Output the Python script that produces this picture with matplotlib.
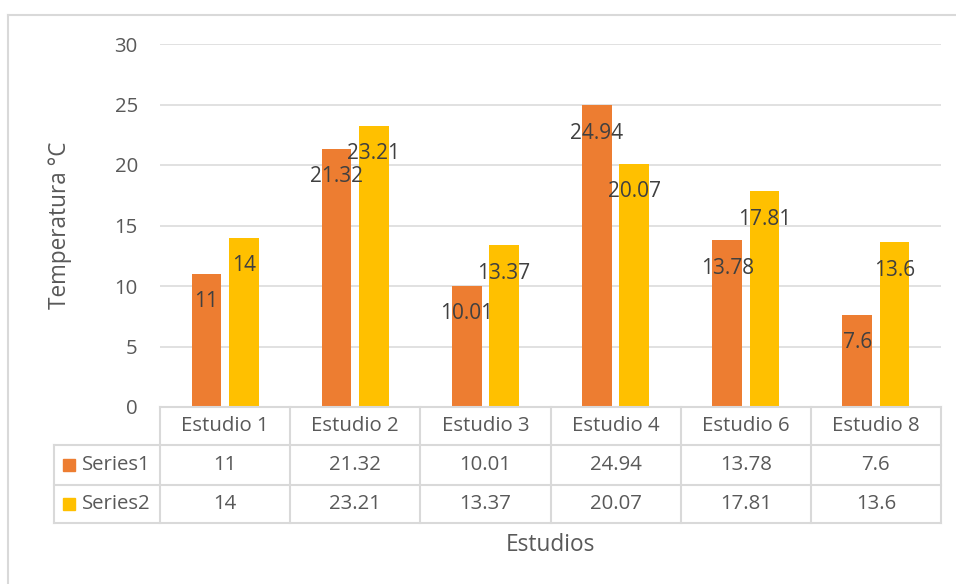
import matplotlib
matplotlib.use("Agg")
import matplotlib.pyplot as plt
from matplotlib.lines import Line2D
from matplotlib.patches import Rectangle
import numpy as np

categories = ["Estudio 1", "Estudio 2", "Estudio 3", "Estudio 4", "Estudio 6", "Estudio 8"]
series_names = ["Series1", "Series2"]
series1 = [11, 21.32, 10.01, 24.94, 13.78, 7.6]
series2 = [14, 23.21, 13.37, 20.07, 17.81, 13.6]
series_labels = [["11", "21.32", "10.01", "24.94", "13.78", "7.6"],
                 ["14", "23.21", "13.37", "20.07", "17.81", "13.6"]]
colors = ["#ED7D31", "#FFC000"]

plt.rcParams['font.family'] = ['Open Sans', 'DejaVu Sans']
W, H = 956, 584
fig = plt.figure(figsize=(W / 100, H / 100), dpi=100)

def fx(x):
    return x / W

def fy(y):
    return 1 - y / H

TXT = "#595959"
FS = 14.7
L, R, T, B = 160, 941, 44, 407
ax = fig.add_axes([fx(L), fy(B), fx(R) - fx(L), fy(T) - fy(B)])
n = len(categories)
x = np.arange(n) + 0.5
bw = 0.228
off = 0.143
for vals, labs, c, sgn in [(series1, series_labels[0], colors[0], -1), (series2, series_labels[1], colors[1], 1)]:
    bars = ax.bar(x + sgn * off, vals, width=bw, color=c, zorder=3)
    for b, lab in zip(bars, labs):
        ax.annotate(lab, (b.get_x() + b.get_width() / 2, b.get_height()),
                    xytext=(0, -20), textcoords="offset points",
                    ha="center", va="center", fontsize=15, color="#404040", zorder=4)

ax.set_xlim(0, n)
ax.set_ylim(0, 30)
ax.set_yticks(range(0, 31, 5))
ax.yaxis.grid(True, color="#d9d9d9", lw=1.1, zorder=0)
ax.set_axisbelow(True)
for s in ax.spines.values():
    s.set_visible(False)
ax.tick_params(axis="y", length=0, pad=16, labelsize=FS, labelcolor=TXT)
ax.set_xticks([])
fig.text(fx(60), fy(225), "Temperatura °C", rotation=90, ha="center", va="center", fontsize=16.3, color=TXT)

# chart outer border
fig.add_artist(Line2D([fx(8), fx(W + 5)], [fy(15), fy(15)], transform=fig.transFigure, color="#d9d9d9", lw=1.5))
fig.add_artist(Line2D([fx(8), fx(8)], [fy(15), fy(H + 5)], transform=fig.transFigure, color="#d9d9d9", lw=1.5))

# data table
tc = "#d9d9d9"
tlw = 1.5
colx = [L + (R - L) * i / n for i in range(n + 1)]
rows_y = [407, 445, 485, 523]
leg_left = 54

def hline(x0, x1, y):
    fig.add_artist(Line2D([fx(x0), fx(x1)], [fy(y), fy(y)], transform=fig.transFigure, color=tc, lw=tlw))

def vline(xx, y0, y1):
    fig.add_artist(Line2D([fx(xx), fx(xx)], [fy(y0), fy(y1)], transform=fig.transFigure, color=tc, lw=tlw))

hline(L, R, rows_y[0])
for y in rows_y[1:]:
    hline(leg_left, R, y)
for xx in colx:
    vline(xx, rows_y[0], rows_y[3])
vline(leg_left, rows_y[1], rows_y[3])

for i, cat in enumerate(categories):
    cx = (colx[i] + colx[i + 1]) / 2
    fig.text(fx(cx), fy((rows_y[0] + rows_y[1]) / 2), cat, ha="center", va="center", fontsize=FS, color=TXT)
    for r, labs in enumerate(series_labels):
        fig.text(fx(cx), fy((rows_y[r + 1] + rows_y[r + 2]) / 2), labs[i], ha="center", va="center", fontsize=FS, color=TXT)

for r, (name, c) in enumerate(zip(series_names, colors)):
    cy = (rows_y[r + 1] + rows_y[r + 2]) / 2
    fig.add_artist(Rectangle((fx(63), fy(cy + 6)), fx(12), fy(0) - fy(12), transform=fig.transFigure, color=c))
    fig.text(fx(82), fy(cy), name, ha="left", va="center", fontsize=FS, color=TXT)

fig.text(fx((L + R) / 2), fy(545), "Estudios", ha="center", va="center", fontsize=16.3, color=TXT)

fig.savefig("out.png", dpi=100)
